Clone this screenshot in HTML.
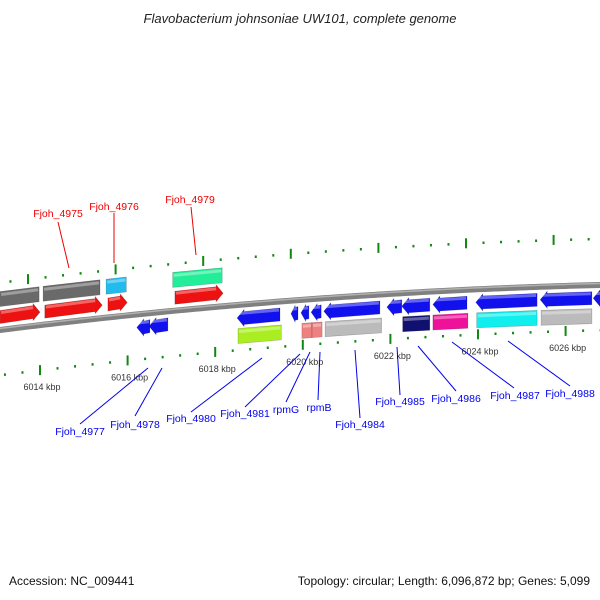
<!DOCTYPE html>
<html><head><meta charset="utf-8"><style>
html,body{margin:0;padding:0;background:#fff;}
svg{display:block;font-family:"Liberation Sans",sans-serif;}
</style></head><body>
<svg id="map" width="600" height="600" viewBox="0 0 600 600" xmlns="http://www.w3.org/2000/svg">
<text x="300" y="23" text-anchor="middle" font-size="13" font-style="italic" fill="#222">Flavobacterium johnsoniae UW101, complete genome</text>
<g id="ticks"></g>
<path id="backbone" fill="none" stroke="#808080" stroke-width="6"></path>
<path id="backbone-hl" fill="none" stroke="#b0b0b0" stroke-width="1.5"></path>
<g id="genes"></g>
<g id="labels"></g>
<text x="9" y="585" font-size="12" fill="#111">Accession: NC_009441</text>
<text x="590" y="585" text-anchor="end" font-size="12" fill="#111">Topology: circular; Length: 6,096,872 bp; Genes: 5,099</text>
</svg>
<script>
// scale: kbp positions
const geneStarts = [6013.09,6014.11,6015.55,6017.08, 6013.09,6014.07,6015.51,6017.03,
  6016.21,6016.49,6018.50,6019.73,6019.96,6020.19,6020.48,6021.92,6022.26,6022.97,6023.95,6025.42,6026.63,
  6018.52,6019.98,6020.21,6020.51,6022.28,6022.97,6023.97,6025.44];
const geneEnds = [6014.00,6015.42,6015.99,6018.18, 6013.98,6015.37,6015.97,6018.16,
  6016.51,6016.92,6019.48,6019.89,6020.14,6020.42,6021.76,6022.26,6022.90,6023.75,6025.35,6026.60,6027.20,
  6019.51,6020.21,6020.44,6021.80,6022.90,6023.77,6025.35,6026.60];
const geneRows = ['fwd','fwd','fwd','fwd','top','top','top','top',
  'rev','rev','rev','rev','rev','rev','rev','rev','rev','rev','rev','rev','rev',
  'bot','bot','bot','bot','bot','bot','bot','bot'];
const geneColors = ['#ee1111','#ee1111','#ee1111','#ee1111','#6a6a6a','#6a6a6a','#22bbee','#22ee99',
  '#1111ee','#1111ee','#1111ee','#1111ee','#1111ee','#1111ee','#1111ee','#1111ee','#1111ee','#1111ee','#1111ee','#1111ee','#1111ee',
  '#aaee22','#ee8080','#ee8080','#bbbbbb','#101070','#ee1199','#11eeee','#bbbbbb'];
const tickLabels = ['6014 kbp','6016 kbp','6018 kbp','6020 kbp','6022 kbp','6024 kbp','6026 kbp'];
const tickKbp = [6014,6016,6018,6020,6022,6024,6026];
const labelNames = ['Fjoh_4975','Fjoh_4976','Fjoh_4979','Fjoh_4977','Fjoh_4978','Fjoh_4980','Fjoh_4981','rpmG','rpmB','Fjoh_4984','Fjoh_4985','Fjoh_4986','Fjoh_4987','Fjoh_4988'];

const NS='http://www.w3.org/2000/svg';
const X = k => 40 + (k-6014)*43.8;
const Yc = x => 330 - 0.125*x + 8.33e-5*x*x;
const offs = {fwd:-13, top:-31, rev:13, bot:31};
const H = 15;
function mk(tag, attrs, parent){const e=document.createElementNS(NS,tag);for(const k in attrs)e.setAttribute(k,attrs[k]);parent.appendChild(e);return e;}

// backbone
let d='';for(let x=-5;x<=605;x+=5){d+=(x===-5?'M':'L')+x+' '+Yc(x).toFixed(2);}
document.getElementById('backbone').setAttribute('d',d);
let d2='';for(let x=-5;x<=605;x+=5){d2+=(x===-5?'M':'L')+x+' '+(Yc(x)-1.5).toFixed(2);}
document.getElementById('backbone-hl').setAttribute('d',d2);

// ticks
const tg=document.getElementById('ticks');
for(let i=0;i<=45;i++){
  const k=6012+i*0.4;
  const major=Math.abs((k-6012)/2-Math.round((k-6012)/2))<0.01;
  [[0,45],[-12,-46]].forEach(([dx,off])=>{
    const x=X(k)+dx, y=Yc(X(k))+off;
    if(x<-2||x>602)return;
    const t=mk('rect',{x:x-1,y:major?y-5:y-1,width:2,height:major?10:2.5,fill:'#118811'},tg);
    
    
  });
}
tickKbp.forEach((k,i)=>{
  const x=X(k)+2, y=Yc(X(k))+65;
  const t=mk('text',{x:x,y:y,'font-size':9,'text-anchor':'middle',fill:'#333'},tg);
  t.textContent=tickLabels[i];
  
  
});

// genes
const gg=document.getElementById('genes');
for(let i=0;i<geneStarts.length;i++){
  const x1=X(geneStarts[i]), x2=X(geneEnds[i]), row=geneRows[i];
  const o=offs[row];
  const y1=Yc(x1)+o, y2=Yc(x2)+o;
  let pts;
  const a=Math.min(7,(x2-x1)*0.6);
  if(row==='fwd'){
    pts=[[x1,y1-H/2+1],[x2-a,y2-H/2+1],[x2-a,y2-H/2-1],[x2,y2],[x2-a,y2+H/2+1],[x2-a,y2+H/2-1],[x1,y1+H/2-1]];
  } else if(row==='rev'){
    pts=[[x1,y1],[x1+a,y1-H/2-1],[x1+a,y1-H/2+1],[x2,y2-H/2+1],[x2,y2+H/2-1],[x1+a,y1+H/2-1],[x1+a,y1+H/2+1]];
  } else {
    pts=[[x1,y1-H/2],[x2,y2-H/2],[x2,y2+H/2],[x1,y1+H/2]];
  }
  const p=mk('polygon',{points:pts.map(p=>p[0].toFixed(1)+','+p[1].toFixed(1)).join(' '),fill:geneColors[i],stroke:'rgba(0,0,0,0.25)','stroke-width':0.6},gg);
  
  
  const hl=mk('line',{x1:x1+1,y1:y1-H/2+3,x2:x2-(row==='fwd'?a:1),y2:y2-H/2+3,stroke:'rgba(255,255,255,0.35)','stroke-width':3},gg);
  
  
}

// labels
const lg=document.getElementById('labels');
const L=[
 [58,217,58,222,69,268,'#e00'],[114,210,114,213,114,263,'#e00'],[190,203,191,207,196,255,'#e00'],
 [80,435,80,424,148,368,'#00e'],[135,428,135,416,162,368,'#00e'],[191,422,191,412,262,358,'#00e'],
 [245,417,245,407,300,354,'#00e'],[286,413,286,402,310,352,'#00e'],[319,411,318,400,320,352,'#00e'],
 [360,428,360,418,355,350,'#00e'],[400,405,400,395,397,347,'#00e'],[456,402,456,391,418,346,'#00e'],
 [515,399,514,388,452,342,'#00e'],[570,397,570,386,508,341,'#00e']];
L.forEach((l,i)=>{
  const ln=mk('line',{x1:l[2],y1:l[3],x2:l[4],y2:l[5],stroke:l[6],'stroke-width':1},lg);
  
  
  const t=mk('text',{x:l[0],y:l[1],'text-anchor':'middle','font-size':10.5,fill:l[6]},lg);
  t.textContent=labelNames[i];
  
  
});
</script>
</body></html>
